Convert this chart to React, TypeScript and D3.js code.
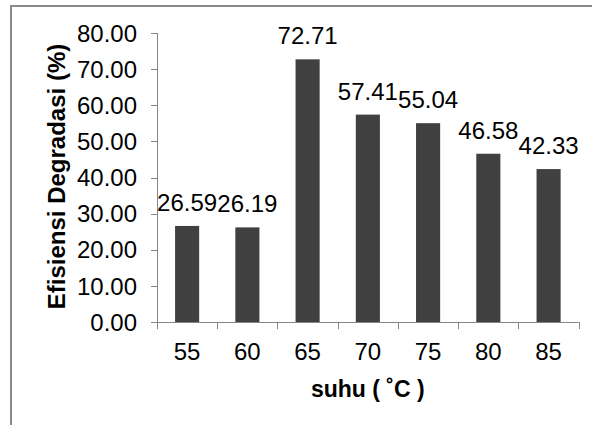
import React from "react";
import * as d3 from "d3";

const categories = ["55", "60", "65", "70", "75", "80", "85"];
const values = [26.59, 26.19, 72.71, 57.41, 55.04, 46.58, 42.33];
const yTicks = [0, 10, 20, 30, 40, 50, 60, 70, 80];
const yTitle = "Efisiensi Degradasi (%)";
const xTitle = "suhu ( ˚C )";

const W = 592;
const H = 425;
const FONT = "'Liberation Sans', Arial, sans-serif";

export default function App() {
  const left = 157;
  const right = 578.7;
  const top = 33;
  const bottom = 322;

  const x = d3.scaleBand<string>().domain(categories).range([left, right]).paddingInner(0.6).paddingOuter(0.3);
  const xEdges = d3.scaleLinear().domain([0, categories.length]).range([left, right]);
  const y = d3.scaleLinear().domain([0, 80]).range([bottom, top]);
  const axisColor = "#868686";

  return (
    <div style={{ position: "fixed", left: 0, top: 0 }}>
      <svg width={W} height={H} style={{ display: "block", background: "#fff" }} fontFamily={FONT}>
        <rect x={0} y={0} width={W} height={H} fill="#fff" />
        <path d={`M11,${H + 5} L11,6 L${W + 5},6`} fill="none" stroke="#8a8a8a" strokeWidth={2} />

        {/* bars */}
        {values.map((v, i) => (
          <rect
            key={"b" + i}
            x={x(categories[i])}
            y={y(v)}
            width={x.bandwidth()}
            height={y(0) - y(v)}
            fill="#404040"
          />
        ))}

        {/* y axis */}
        <line x1={left + 0.5} x2={left + 0.5} y1={top} y2={bottom} stroke={axisColor} strokeWidth={1} />
        {yTicks.map((t) => (
          <g key={"yt" + t}>
            <line x1={left - 6} x2={left} y1={Math.round(y(t)) + 0.5} y2={Math.round(y(t)) + 0.5} stroke={axisColor} />
            <text x={137} y={y(t)} dy="0.36em" textAnchor="end" fontSize={24} fill="#000">
              {t.toFixed(2)}
            </text>
          </g>
        ))}

        {/* x axis */}
        <line x1={left} x2={right} y1={bottom + 0.5} y2={bottom + 0.5} stroke={axisColor} strokeWidth={1} />
        {d3.range(categories.length + 1).map((i) => (
          <line
            key={"xt" + i}
            x1={Math.round(xEdges(i)) + 0.5}
            x2={Math.round(xEdges(i)) + 0.5}
            y1={bottom}
            y2={bottom + 7}
            stroke={axisColor}
          />
        ))}
        {categories.map((c) => (
          <text key={"xl" + c} x={(x(c) as number) + x.bandwidth() / 2} y={360} textAnchor="middle" fontSize={24} fill="#000">
            {c}
          </text>
        ))}

        {/* data labels */}
        {values.map((v, i) => (
          <text
            key={"dl" + i}
            x={(x(categories[i]) as number) + x.bandwidth() / 2}
            y={y(v) - 15}
            textAnchor="middle"
            fontSize={24}
            fill="#000"
          >
            {v.toFixed(2)}
          </text>
        ))}

        {/* titles */}
        <text
          transform={`translate(64.5,${176.5}) rotate(-90)`}
          textAnchor="middle"
          fontSize={24}
          fontWeight="bold"
          fill="#000"
        >
          {yTitle}
        </text>
        <text x={(left + right) / 2} y={397} textAnchor="middle" fontSize={23} fontWeight="bold" fill="#000">
          {xTitle}
        </text>
      </svg>
    </div>
  );
}
